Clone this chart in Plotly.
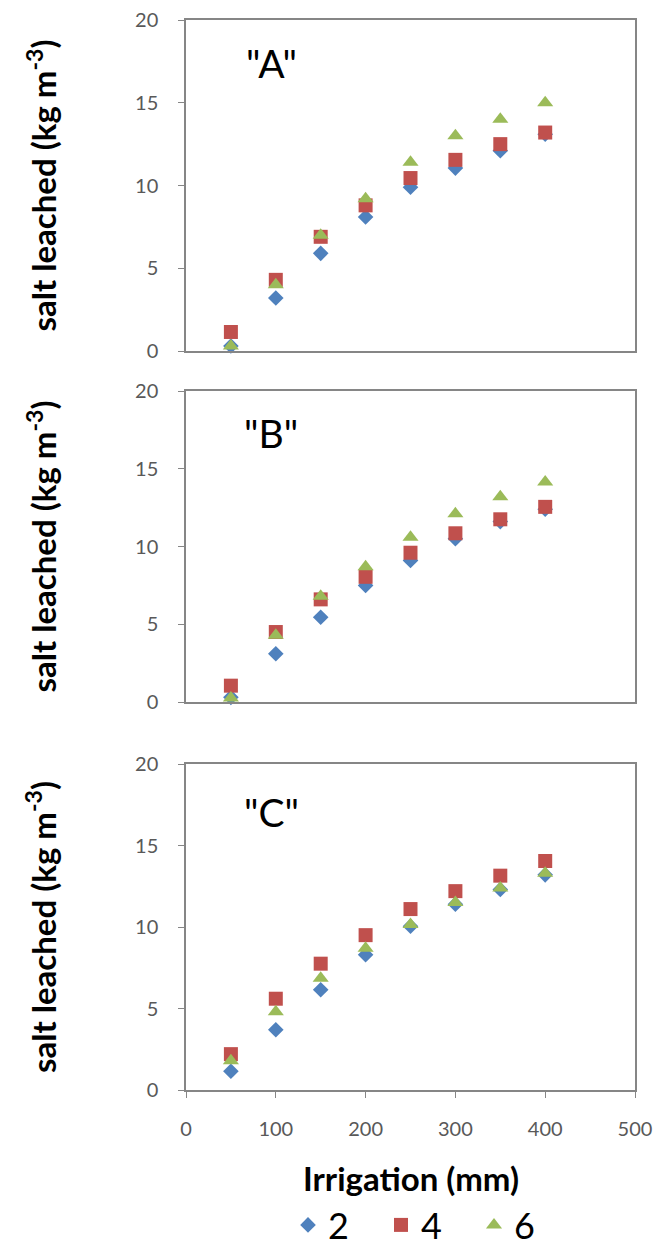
import plotly.graph_objects as go

irrigation = [50, 100, 150, 200, 250, 300, 350, 400]
series_names = ["2", "4", "6"]

# Panel "A"
a_2 = [0.3, 3.2, 5.9, 8.1, 9.9, 11.05, 12.1, 13.1]
a_4 = [1.15, 4.3, 6.9, 8.8, 10.45, 11.55, 12.5, 13.2]
a_6 = [0.3, 4.0, 7.0, 9.2, 11.4, 13.0, 14.0, 15.0]
# Panel "B"
b_2 = [0.3, 3.1, 5.45, 7.5, 9.1, 10.5, 11.6, 12.4]
b_4 = [1.05, 4.5, 6.6, 8.05, 9.6, 10.85, 11.75, 12.55]
b_6 = [0.25, 4.3, 6.8, 8.7, 10.6, 12.1, 13.2, 14.15]
# Panel "C"
c_2 = [1.15, 3.7, 6.15, 8.3, 10.05, 11.4, 12.3, 13.2]
c_4 = [2.2, 5.6, 7.75, 9.5, 11.1, 12.2, 13.15, 14.05]
c_6 = [1.8, 4.8, 6.85, 8.7, 10.15, 11.5, 12.4, 13.3]

panel_labels = ['"A"', '"B"', '"C"']
y_ticks = [0, 5, 10, 15, 20]
x_ticks = [0, 100, 200, 300, 400, 500]

colors = ["#4F81BD", "#C0504D", "#9BBB59"]
symbols = ["diamond", "square", "triangle-up"]
sizes = [12, 14, 14]

# page body has an 8px margin; size the figure so it fits the 662x1256 window
OFF = 8
W, H = 662 - 2 * OFF, 1256 - 2 * OFF
FONT = "Lato"


def px_x(v):
    return (v - OFF) / W


def px_y(v):
    return 1 - (v - OFF) / H


fig = go.Figure()
panels = [(a_2, a_4, a_6), (b_2, b_4, b_6), (c_2, c_4, c_6)]

x_dom = [px_x(186), px_x(635)]
y_px = [(20, 351), (391, 702), (764, 1090)]
label_y = [63, 433, 812]

for p, data in enumerate(panels):
    idx = "" if p == 0 else str(p + 1)
    for s, vals in enumerate(data):
        fig.add_trace(go.Scatter(
            x=irrigation, y=vals, mode="markers",
            name=series_names[s],
            marker=dict(symbol=symbols[s], size=sizes[s], color=colors[s], line=dict(width=0)),
            xaxis="x" + idx, yaxis="y" + idx,
            showlegend=(p == 2), cliponaxis=False,
        ))
    top, bot = y_px[p]
    ydom = [px_y(bot), px_y(top)]
    axline = dict(showline=True, linecolor="#868686", linewidth=1.5, mirror=True,
                  showgrid=False, zeroline=False, ticklabeloverflow="allow")
    fig.update_layout(**{
        "xaxis" + idx: dict(domain=x_dom, range=[0, 500], tickvals=x_ticks,
                            showticklabels=(p == 2), ticks="outside" if p == 2 else "",
                            ticklen=6, tickcolor="#868686", ticklabelstandoff=14,
                            tickfont=dict(family=FONT, size=20, color="#595959"),
                            anchor="y" + idx, **axline),
        "yaxis" + idx: dict(domain=ydom, range=[0, 20], tickvals=y_ticks,
                            ticks="outside", ticklen=6, tickcolor="#868686",
                            ticklabelstandoff=16,
                            tickfont=dict(family=FONT, size=20, color="#595959"),
                            anchor="x" + idx, **axline),
    })
    fig.add_annotation(text=panel_labels[p], xref="paper", yref="paper",
                       x=px_x(271), y=px_y(label_y[p]),
                       showarrow=False, font=dict(family=FONT, size=39, color="black"),
                       xanchor="center", yanchor="middle")
    fig.add_annotation(text="<b>salt leached (kg m<sup>-3</sup>)</b>", textangle=-90,
                       xref="paper", yref="paper", x=px_x(41), y=px_y((top + bot) / 2),
                       showarrow=False, font=dict(family=FONT, size=33, color="black"),
                       xanchor="center", yanchor="middle")

fig.add_annotation(text="<b>Irrigation (mm)</b>", xref="paper", yref="paper",
                   x=px_x(411), y=px_y(1178), showarrow=False,
                   font=dict(family=FONT, size=33, color="black"),
                   xanchor="center", yanchor="middle")

fig.update_layout(
    width=W, height=H,
    margin=dict(l=0, r=0, t=0, b=0, autoexpand=False),
    paper_bgcolor="white", plot_bgcolor="white",
    showlegend=True,
    legend=dict(orientation="h", x=px_x(288), y=px_y(1225), xanchor="left", yanchor="middle",
                font=dict(family=FONT, size=36, color="black"),
                entrywidth=48, entrywidthmode="pixels", itemwidth=30,
                bgcolor="rgba(0,0,0,0)"),
)

fig.write_html("out.html")
